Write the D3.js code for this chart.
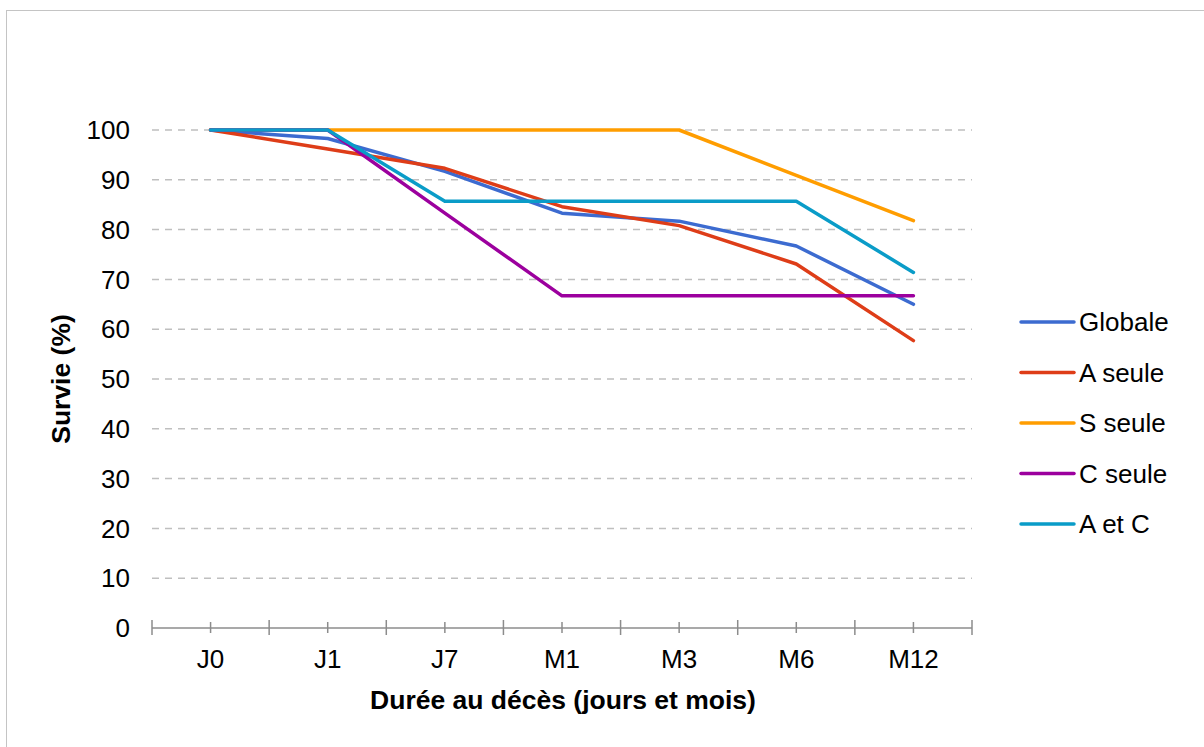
<!DOCTYPE html>
<html>
<head>
<meta charset="utf-8">
<script src="https://cdn.jsdelivr.net/npm/d3@7"></script>
<style>
  html, body { margin: 0; padding: 0; background: #fff; }
  svg { display: block; font-family: "Liberation Sans", Arial, sans-serif; }
</style>
</head>
<body>
<svg id="chart" width="1204" height="747"></svg>
<script>
// Survival (%) by time since diagnosis, per treatment group
const categories = ["J0", "J1", "J7", "M1", "M3", "M6", "M12"];
const globale = [100, 98.3, 91.7, 83.3, 81.7, 76.7, 65.0];
const aSeule  = [100, 96.2, 92.3, 84.6, 80.8, 73.1, 57.7];
const sSeule  = [100, 100, 100, 100, 100, 90.9, 81.8];
const cSeule  = [100, 100, 83.3, 66.7, 66.7, 66.7, 66.7];
const aEtC    = [100, 100, 85.7, 85.7, 85.7, 85.7, 71.4];
const seriesNames = ["Globale", "A seule", "S seule", "C seule", "A et C"];
const yTicks = [0, 10, 20, 30, 40, 50, 60, 70, 80, 90, 100];

const seriesValues = [globale, aSeule, sSeule, cSeule, aEtC];
const colors = ["#3C6BD0", "#DE3D18", "#FF9D00", "#9C009E", "#0A9CC8"];

const svg = d3.select("#chart");

// outer frame
svg.append("rect")
  .attr("x", 6.5).attr("y", 10.5)
  .attr("width", 1400).attr("height", 900)
  .attr("fill", "none").attr("stroke", "#C4C4C4").attr("stroke-width", 1);

const plot = { left: 152, right: 972, top: 130, bottom: 628 };

const x = d3.scalePoint().domain(categories)
  .range([plot.left, plot.right]).padding(0.5);
const step = x.step();
const y = d3.scaleLinear().domain([0, 100]).range([plot.bottom, plot.top]);

// horizontal dashed gridlines
svg.append("g").selectAll("line")
  .data(yTicks.filter(d => d > 0))
  .join("line")
  .attr("x1", plot.left).attr("x2", plot.right)
  .attr("y1", d => y(d)).attr("y2", d => y(d))
  .attr("stroke", "#BFBFBF").attr("stroke-width", 1.5)
  .attr("stroke-dasharray", "7,6");

// y tick labels
svg.append("g").selectAll("text")
  .data(yTicks)
  .join("text")
  .attr("x", 130).attr("y", d => y(d))
  .attr("dy", "0.35em")
  .attr("text-anchor", "end")
  .attr("font-size", 26)
  .attr("fill", "#000")
  .text(d => d);

// x axis: line, boundary ticks and centre ticks
const xAxis = svg.append("g");
xAxis.append("line")
  .attr("x1", plot.left).attr("x2", plot.right)
  .attr("y1", y(0)).attr("y2", y(0))
  .attr("stroke", "#8C8C8C").attr("stroke-width", 1.5);
const bounds = [x(categories[0]) - step / 2, ...categories.map(c => x(c) + step / 2)];
xAxis.selectAll("line.b")
  .data(bounds).join("line").attr("class", "b")
  .attr("x1", d => d).attr("x2", d => d)
  .attr("y1", y(0) - 8).attr("y2", y(0) + 7)
  .attr("stroke", "#8C8C8C").attr("stroke-width", 1.5);
xAxis.selectAll("line.c")
  .data(categories).join("line").attr("class", "c")
  .attr("x1", d => x(d)).attr("x2", d => x(d))
  .attr("y1", y(0) - 6).attr("y2", y(0) + 5)
  .attr("stroke", "#8C8C8C").attr("stroke-width", 1.5);
xAxis.selectAll("text")
  .data(categories).join("text")
  .attr("x", d => x(d)).attr("y", 668)
  .attr("text-anchor", "middle")
  .attr("font-size", 26)
  .attr("fill", "#000")
  .text(d => d);

// axis titles
svg.append("text")
  .attr("x", (plot.left + plot.right) / 2 + 1).attr("y", 709)
  .attr("text-anchor", "middle")
  .attr("font-size", 26.5).attr("font-weight", "bold")
  .text("Durée au décès (jours et mois)");
svg.append("text")
  .attr("transform", `translate(70,${(plot.top + plot.bottom) / 2}) rotate(-90)`)
  .attr("text-anchor", "middle")
  .attr("font-size", 26.5).attr("font-weight", "bold")
  .text("Survie (%)");

// series lines
const line = d3.line()
  .x((d, i) => x(categories[i]))
  .y(d => y(d));
svg.append("g").selectAll("path")
  .data(seriesValues)
  .join("path")
  .attr("d", d => line(d))
  .attr("fill", "none")
  .attr("stroke", (d, i) => colors[i])
  .attr("stroke-width", 3.5)
  .attr("stroke-linejoin", "round")
  .attr("stroke-linecap", "round");

// legend
const legend = svg.append("g").selectAll("g")
  .data(seriesNames)
  .join("g")
  .attr("transform", (d, i) => `translate(1021,${322 + i * 50.5})`);
legend.append("line")
  .attr("x1", 0).attr("x2", 53)
  .attr("stroke", (d, i) => colors[i])
  .attr("stroke-width", 3.5)
  .attr("stroke-linecap", "round");
legend.append("text")
  .attr("x", 58).attr("dy", "0.35em")
  .attr("font-size", 26)
  .attr("fill", "#000")
  .text(d => d);
</script>
</body>
</html>
